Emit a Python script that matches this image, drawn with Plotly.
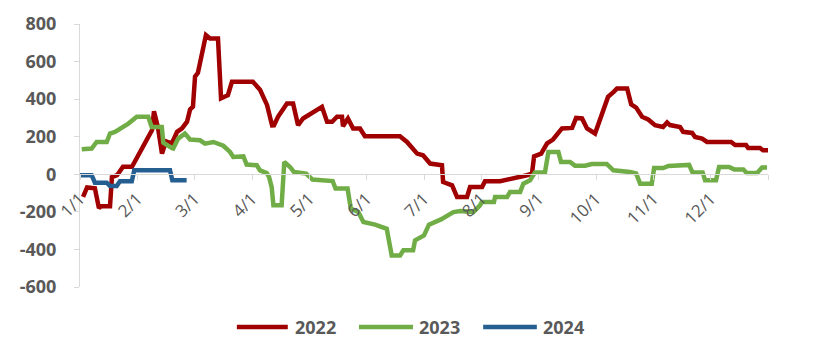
import plotly.graph_objects as go

# x = position along a 360-unit year (each month = 30 units), y = value
days_2022 = [1.6, 3.7, 7.8, 9.9, 11, 15.7, 16.7, 19.4, 22.5, 27.2, 37.7, 38.7, 40.8, 42.9, 45, 48.1,
             50.8, 53.4, 56, 57.6, 59.1, 60.2, 61.7, 63.3, 64.4, 65.9, 68, 72.2, 73.8, 77.4, 79.5,
             90.5, 94.2, 96.8, 97.9, 100.5, 101.5, 103.6, 108.3, 111.5, 114.1, 116.7, 123, 126.6,
             129.3, 131.9, 134.5, 137.1, 137.6, 140.2, 142.9, 146.5, 149.1, 167.4, 171.1, 176.4,
             179.5, 183.2, 189.4, 190, 194.7, 197.3, 202.5, 204.1, 210.4, 211.9, 219.8, 226.6,
             231.8, 233.9, 236.5, 237.6, 241.3, 244.4, 247.5, 252.2, 257.5, 259.6, 262.7, 265.3,
             269.5, 276.3, 279.4, 281, 286.3, 288.4, 291, 294.1, 297.3, 300.9, 305.1, 307.2, 308.7,
             314, 315.6, 320.3, 321.8, 325.5, 328.1, 340.7, 342.8, 348.5, 349.6, 355.8, 357.4, 360]
vals_2022 = [-120, -70, -75, -180, -170, -170, -15, -5, 40, 40, 235, 335, 250, 110, 175, 165,
             226, 245, 280, 345, 360, 520, 540, 610, 650, 741, 723, 723, 404, 421, 492,
             492, 450, 386, 368, 260, 261, 306, 377, 377, 261, 297, 341, 359,
             279, 279, 306, 306, 256, 297, 244, 244, 203, 203, 172, 110,
             101, 57, 48, -41, -59, -121, -121, -68, -68, -37, -37, -23,
             -14, -5, 4, 95, 110, 165, 185, 244, 247, 300, 297, 244,
             217, 412, 440, 457, 457, 372, 355, 306, 292, 261, 252, 276, 262,
             252, 226, 220, 199, 190, 172, 172, 156, 156, 140, 140, 128, 128]

days_2023 = [0.9, 6.1, 8.7, 14.0, 15.7, 18.3, 25.3, 29.7, 35.7, 37.5, 42.8, 43.6, 48.0, 48.8, 51.4,
             54.9, 57.6, 62.8, 65.4, 69.8, 75.0, 78.5, 80.2, 85.5, 87.2, 92.5, 94.2, 97.7, 98.9,
             100.3, 101.2, 105.5, 106.9, 109.9, 112.0, 118.3, 121.7, 132.2, 133.7, 140.0, 141.7,
             145.6, 148.3, 154.4, 160.5, 163.1, 167.5, 169.2, 174.3, 175.3, 180.0, 182.6, 188.9,
             191.9, 195.4, 198.9, 205.8, 209.3, 210.2, 216.6, 217.2, 223.5, 225.0, 230.3, 232.0,
             235.5, 238.1, 243.3, 245.1, 250.3, 251.7, 256.4, 259.0, 264.3, 267.8, 275.6, 279.1,
             287.8, 291.0, 293.1, 299.2, 300.4, 305.2, 307.9, 314.0, 318.7, 320.5, 325.8, 327.1,
             332.8, 334.4, 339.6, 342.3, 347.1, 348.9, 354.3, 356.9, 359.5]
vals_2023 = [133, 137, 172, 172, 217, 226, 270, 306, 306, 252, 252, 168, 140, 137, 190,
             217, 185, 181, 163, 172, 152, 119, 92, 95, 52, 48, 21, 6, -14,
             -68, -165, -165, 66, 39, 12, 4, -28, -36, -76, -76, -183,
             -201, -254, -268, -290, -432, -432, -405, -405, -352, -325, -268, -240,
             -224, -201, -195, -201, -165, -148, -148, -121, -121, -94, -94, -50,
             -32, 10, 10, 119, 119, 66, 66, 46, 46, 55, 55, 21,
             12, 4, -50, -50, 33, 33, 44, 50, 50, 10, 10, -32,
             -32, 39, 39, 26, 26, 7, 7, 36, 36]

days_2024 = [0, 6.1, 7.8, 14.0, 15.7, 19.2, 20.9, 27.1, 28.4, 47.1, 48.3, 55.8]
vals_2024 = [-5, -5, -45, -45, -62, -62, -37, -37, 22, 22, -32, -32]

series_names = ["2022", "2023", "2024"]
series_colors = ["#A00000", "#70AD47", "#255E91"]

month_ticks = [0, 30, 60, 90, 120, 150, 180, 210, 240, 270, 300, 330, 360]
month_labels = ["1/1", "2/1", "3/1", "4/1", "5/1", "6/1", "7/1", "8/1", "9/1",
                "10/1", "11/1", "12/1", ""]
y_ticks = [-600, -400, -200, 0, 200, 400, 600, 800]
y_labels = ["-600", "-400", "-200", "0", "200", "400", "600", "800"]

FONT = "Open Sans"
GRAY = "#595959"
AX = "#D9D9D9"

fig = go.Figure()
for name, xs, ys, col in zip(series_names,
                             [days_2022, days_2023, days_2024],
                             [vals_2022, vals_2023, vals_2024],
                             series_colors):
    fig.add_trace(go.Scatter(x=xs, y=ys, mode="lines", name=name,
                             line=dict(color=col, width=4.5), showlegend=False))

# manual legend (paper coordinates)
leg_y = -0.152
leg_items = [(0.228, 0.302, 0.3096), (0.4055, 0.484, 0.4898), (0.586, 0.664, 0.6700)]
shapes = []
annotations = []
for (x0, x1, xt), name, col in zip(leg_items, series_names, series_colors):
    shapes.append(dict(type="line", xref="paper", yref="paper", x0=x0, x1=x1, y0=leg_y, y1=leg_y,
                       line=dict(color=col, width=4.5)))
    annotations.append(dict(xref="paper", yref="paper", x=xt, y=leg_y, text=name, showarrow=False,
                            xanchor="left", yanchor="middle",
                            font=dict(family=FONT, size=18, color=GRAY, weight="bold")))

# page body has an 8px margin, so the figure is 16px smaller than the window
fig.update_layout(
    width=801, height=347,
    margin=dict(l=72, r=41, t=16, b=68, autoexpand=False),
    plot_bgcolor="white", paper_bgcolor="white",
    shapes=shapes, annotations=annotations,
    xaxis=dict(range=[0, 360], tickvals=month_ticks, ticktext=month_labels,
               tickangle=-45, anchor="free", position=600 / 1400, automargin=False,
               showline=True, linecolor=AX, linewidth=1,
               ticks="outside", ticklen=5, tickcolor=AX,
               showgrid=False, zeroline=False, ticklabelstandoff=2,
               tickfont=dict(family=FONT, size=17, color=GRAY)),
    yaxis=dict(range=[-600, 800], tickvals=y_ticks, ticktext=y_labels, automargin=False,
               showline=True, linecolor=AX, linewidth=1,
               ticks="outside", ticklen=5, tickcolor=AX,
               showgrid=False, zeroline=False, ticklabelstandoff=14,
               tickfont=dict(family=FONT, size=18, color=GRAY, weight="bold")),
)

fig.write_html("out.html")
